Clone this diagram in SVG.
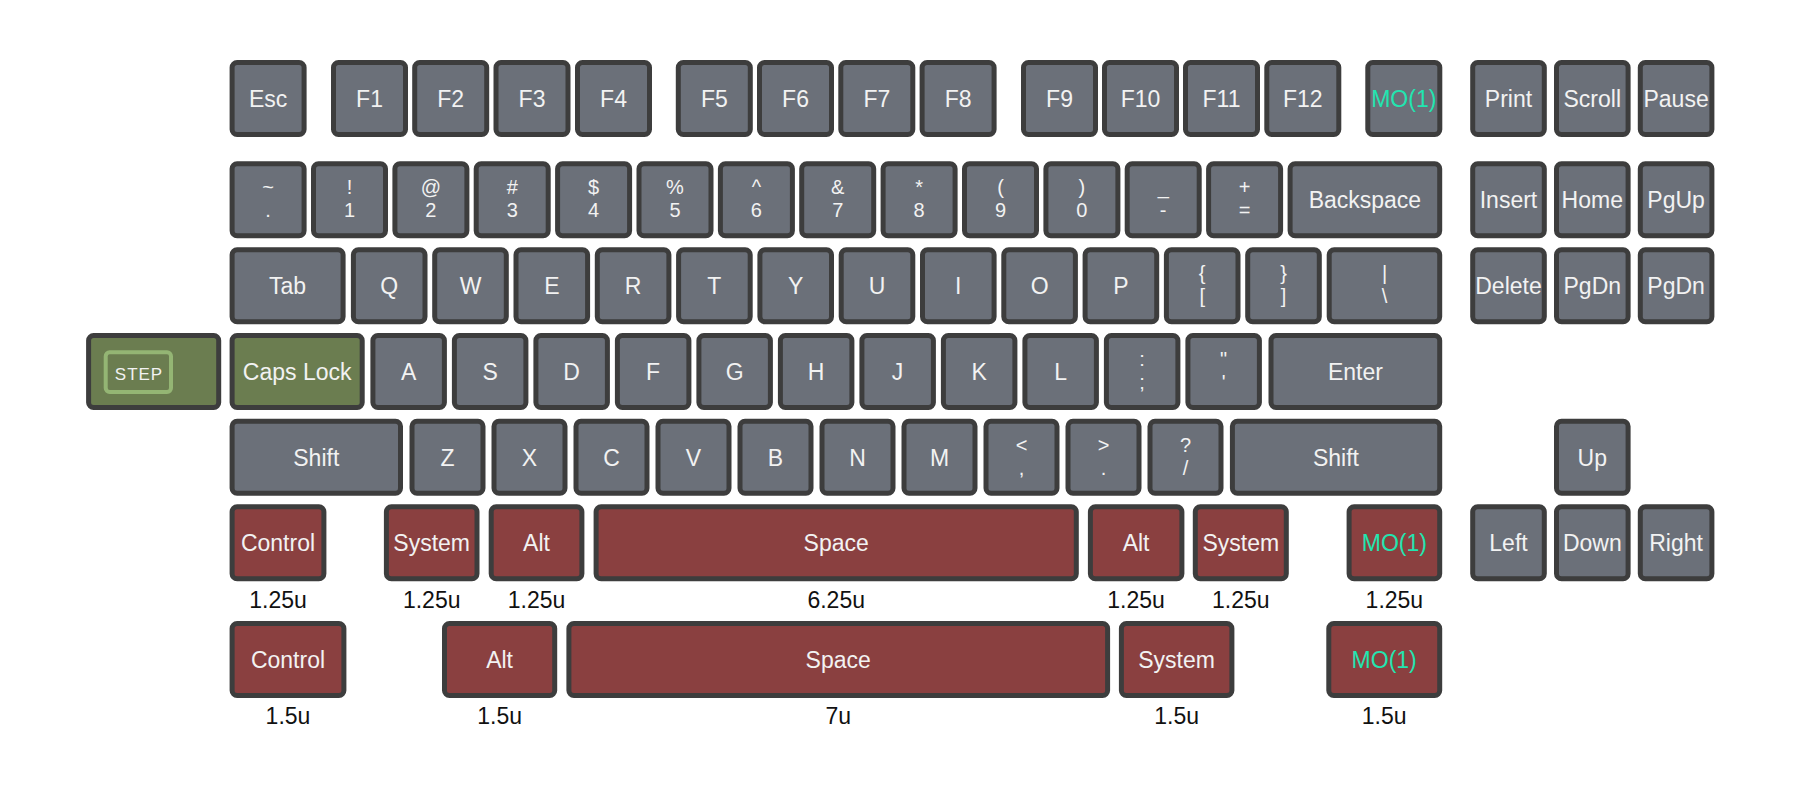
<svg xmlns="http://www.w3.org/2000/svg" width="1800" height="788" viewBox="0 0 1800 788">
<style>
rect.k{stroke:#3d3d3d;stroke-width:5}
.gr{fill:#6b7079}.rd{fill:#8a4040}.gn{fill:#6b7d50}
text{font-family:"Liberation Sans",Arial,sans-serif;font-size:23px;fill:#f2f2f2;text-anchor:middle}
text.d{font-size:20px}
text.mo{fill:#22e5b0}
text.u{fill:#111111}
text.st{font-size:17px;letter-spacing:1px}
</style>
<rect width="1800" height="788" fill="#ffffff"/>
<g id="row-f">
<g id="k-esc"><rect class="k gr" x="232.1" y="62.5" width="72" height="72" rx="5"/><text x="268.1" y="107">Esc</text></g>
<g id="k-f1"><rect class="k gr" x="333.5" y="62.5" width="72" height="72" rx="5"/><text x="369.5" y="107">F1</text></g>
<g id="k-f2"><rect class="k gr" x="414.7" y="62.5" width="72" height="72" rx="5"/><text x="450.7" y="107">F2</text></g>
<g id="k-f3"><rect class="k gr" x="496" y="62.5" width="72" height="72" rx="5"/><text x="532" y="107">F3</text></g>
<g id="k-f4"><rect class="k gr" x="577.5" y="62.5" width="72" height="72" rx="5"/><text x="613.5" y="107">F4</text></g>
<g id="k-f5"><rect class="k gr" x="678.3" y="62.5" width="72" height="72" rx="5"/><text x="714.3" y="107">F5</text></g>
<g id="k-f6"><rect class="k gr" x="759.5" y="62.5" width="72" height="72" rx="5"/><text x="795.5" y="107">F6</text></g>
<g id="k-f7"><rect class="k gr" x="840.8" y="62.5" width="72" height="72" rx="5"/><text x="876.8" y="107">F7</text></g>
<g id="k-f8"><rect class="k gr" x="922.1" y="62.5" width="72" height="72" rx="5"/><text x="958.1" y="107">F8</text></g>
<g id="k-f9"><rect class="k gr" x="1023.5" y="62.5" width="72" height="72" rx="5"/><text x="1059.5" y="107">F9</text></g>
<g id="k-f10"><rect class="k gr" x="1104.5" y="62.5" width="72" height="72" rx="5"/><text x="1140.5" y="107">F10</text></g>
<g id="k-f11"><rect class="k gr" x="1185.5" y="62.5" width="72" height="72" rx="5"/><text x="1221.5" y="107">F11</text></g>
<g id="k-f12"><rect class="k gr" x="1266.8" y="62.5" width="72" height="72" rx="5"/><text x="1302.8" y="107">F12</text></g>
<g id="k-mo-top"><rect class="k gr" x="1367.8" y="62.5" width="72" height="72" rx="5"/><text class="mo" x="1403.8" y="107">MO(1)</text></g>
<g id="k-print"><rect class="k gr" x="1472.7" y="62.5" width="71.6" height="72" rx="5"/><text x="1508.5" y="107">Print</text></g>
<g id="k-scroll"><rect class="k gr" x="1556.5" y="62.5" width="71.6" height="72" rx="5"/><text x="1592.3" y="107">Scroll</text></g>
<g id="k-pause"><rect class="k gr" x="1640.3" y="62.5" width="71.6" height="72" rx="5"/><text x="1676.1" y="107">Pause</text></g>
</g>
<g id="row-num">
<g id="k-grave"><rect class="k gr" x="232.1" y="163.8" width="72" height="72" rx="5"/><text class="d" x="268.1" y="194.3">~<tspan x="268.1" dy="23">.</tspan></text></g>
<g id="k-1"><rect class="k gr" x="313.5" y="163.8" width="72" height="72" rx="5"/><text class="d" x="349.5" y="194.3">!<tspan x="349.5" dy="23">1</tspan></text></g>
<g id="k-2"><rect class="k gr" x="394.9" y="163.8" width="72" height="72" rx="5"/><text class="d" x="430.9" y="194.3">@<tspan x="430.9" dy="23">2</tspan></text></g>
<g id="k-3"><rect class="k gr" x="476.2" y="163.8" width="72" height="72" rx="5"/><text class="d" x="512.2" y="194.3">#<tspan x="512.2" dy="23">3</tspan></text></g>
<g id="k-4"><rect class="k gr" x="557.6" y="163.8" width="72" height="72" rx="5"/><text class="d" x="593.6" y="194.3">$<tspan x="593.6" dy="23">4</tspan></text></g>
<g id="k-5"><rect class="k gr" x="639" y="163.8" width="72" height="72" rx="5"/><text class="d" x="675" y="194.3">%<tspan x="675" dy="23">5</tspan></text></g>
<g id="k-6"><rect class="k gr" x="720.4" y="163.8" width="72" height="72" rx="5"/><text class="d" x="756.4" y="194.3">^<tspan x="756.4" dy="23">6</tspan></text></g>
<g id="k-7"><rect class="k gr" x="801.7" y="163.8" width="72" height="72" rx="5"/><text class="d" x="837.7" y="194.3">&amp;<tspan x="837.7" dy="23">7</tspan></text></g>
<g id="k-8"><rect class="k gr" x="883.1" y="163.8" width="72" height="72" rx="5"/><text class="d" x="919.1" y="194.3">*<tspan x="919.1" dy="23">8</tspan></text></g>
<g id="k-9"><rect class="k gr" x="964.5" y="163.8" width="72" height="72" rx="5"/><text class="d" x="1000.5" y="194.3">(<tspan x="1000.5" dy="23">9</tspan></text></g>
<g id="k-0"><rect class="k gr" x="1045.9" y="163.8" width="72" height="72" rx="5"/><text class="d" x="1081.9" y="194.3">)<tspan x="1081.9" dy="23">0</tspan></text></g>
<g id="k-minus"><rect class="k gr" x="1127.2" y="163.8" width="72" height="72" rx="5"/><text class="d" x="1163.2" y="194.3">_<tspan x="1163.2" dy="23">-</tspan></text></g>
<g id="k-equal"><rect class="k gr" x="1208.6" y="163.8" width="72" height="72" rx="5"/><text class="d" x="1244.6" y="194.3">+<tspan x="1244.6" dy="23">=</tspan></text></g>
<g id="k-bksp"><rect class="k gr" x="1290.1" y="163.8" width="149.6" height="72" rx="5"/><text x="1364.9" y="208.3">Backspace</text></g>
<g id="k-insert"><rect class="k gr" x="1472.7" y="163.8" width="71.6" height="72" rx="5"/><text x="1508.5" y="208.3">Insert</text></g>
<g id="k-home"><rect class="k gr" x="1556.5" y="163.8" width="71.6" height="72" rx="5"/><text x="1592.3" y="208.3">Home</text></g>
<g id="k-pgup"><rect class="k gr" x="1640.3" y="163.8" width="71.6" height="72" rx="5"/><text x="1676.1" y="208.3">PgUp</text></g>
</g>
<g id="row-tab">
<g id="k-tab"><rect class="k gr" x="232.1" y="249.8" width="111" height="72" rx="5"/><text x="287.6" y="294.3">Tab</text></g>
<g id="k-q"><rect class="k gr" x="353.4" y="249.8" width="71.6" height="72" rx="5"/><text x="389.2" y="294.3">Q</text></g>
<g id="k-w"><rect class="k gr" x="434.7" y="249.8" width="71.6" height="72" rx="5"/><text x="470.5" y="294.3">W</text></g>
<g id="k-e"><rect class="k gr" x="516" y="249.8" width="71.6" height="72" rx="5"/><text x="551.8" y="294.3">E</text></g>
<g id="k-r"><rect class="k gr" x="597.3" y="249.8" width="71.6" height="72" rx="5"/><text x="633.1" y="294.3">R</text></g>
<g id="k-t"><rect class="k gr" x="678.6" y="249.8" width="71.6" height="72" rx="5"/><text x="714.4" y="294.3">T</text></g>
<g id="k-y"><rect class="k gr" x="759.9" y="249.8" width="71.6" height="72" rx="5"/><text x="795.7" y="294.3">Y</text></g>
<g id="k-u"><rect class="k gr" x="841.2" y="249.8" width="71.6" height="72" rx="5"/><text x="877" y="294.3">U</text></g>
<g id="k-i"><rect class="k gr" x="922.5" y="249.8" width="71.6" height="72" rx="5"/><text x="958.3" y="294.3">I</text></g>
<g id="k-o"><rect class="k gr" x="1003.8" y="249.8" width="71.6" height="72" rx="5"/><text x="1039.6" y="294.3">O</text></g>
<g id="k-p"><rect class="k gr" x="1085.1" y="249.8" width="71.6" height="72" rx="5"/><text x="1120.9" y="294.3">P</text></g>
<g id="k-lbr"><rect class="k gr" x="1166.4" y="249.8" width="71.6" height="72" rx="5"/><text class="d" x="1202.2" y="280.3">{<tspan x="1202.2" dy="23">[</tspan></text></g>
<g id="k-rbr"><rect class="k gr" x="1247.7" y="249.8" width="71.6" height="72" rx="5"/><text class="d" x="1283.5" y="280.3">}<tspan x="1283.5" dy="23">]</tspan></text></g>
<g id="k-bsl"><rect class="k gr" x="1329.2" y="249.8" width="110.5" height="72" rx="5"/><text class="d" x="1384.5" y="280.3">|<tspan x="1384.5" dy="23">\</tspan></text></g>
<g id="k-delete"><rect class="k gr" x="1472.7" y="249.8" width="71.6" height="72" rx="5"/><text x="1508.5" y="294.3">Delete</text></g>
<g id="k-pgdn1"><rect class="k gr" x="1556.5" y="249.8" width="71.6" height="72" rx="5"/><text x="1592.3" y="294.3">PgDn</text></g>
<g id="k-pgdn2"><rect class="k gr" x="1640.3" y="249.8" width="71.6" height="72" rx="5"/><text x="1676.1" y="294.3">PgDn</text></g>
</g>
<g id="row-caps">
<g id="k-step"><rect class="k gn" x="88.6" y="335.5" width="130.1" height="72" rx="5"/><rect x="105.7" y="352.3" width="65.3" height="39.7" rx="4" fill="none" stroke="#94b574" stroke-width="4"/><text class="st" x="139" y="379.7">STEP</text></g>
<g id="k-caps"><rect class="k gn" x="232.1" y="335.5" width="130.1" height="72" rx="5"/><text x="297.2" y="380">Caps Lock</text></g>
<g id="k-a"><rect class="k gr" x="372.9" y="335.5" width="71.5" height="72" rx="5"/><text x="408.6" y="380">A</text></g>
<g id="k-s"><rect class="k gr" x="454.4" y="335.5" width="71.5" height="72" rx="5"/><text x="490.1" y="380">S</text></g>
<g id="k-d"><rect class="k gr" x="535.9" y="335.5" width="71.5" height="72" rx="5"/><text x="571.6" y="380">D</text></g>
<g id="k-f"><rect class="k gr" x="617.4" y="335.5" width="71.5" height="72" rx="5"/><text x="653.1" y="380">F</text></g>
<g id="k-g"><rect class="k gr" x="698.9" y="335.5" width="71.5" height="72" rx="5"/><text x="734.6" y="380">G</text></g>
<g id="k-h"><rect class="k gr" x="780.4" y="335.5" width="71.5" height="72" rx="5"/><text x="816.1" y="380">H</text></g>
<g id="k-j"><rect class="k gr" x="861.9" y="335.5" width="71.5" height="72" rx="5"/><text x="897.6" y="380">J</text></g>
<g id="k-k"><rect class="k gr" x="943.4" y="335.5" width="71.5" height="72" rx="5"/><text x="979.1" y="380">K</text></g>
<g id="k-l"><rect class="k gr" x="1024.9" y="335.5" width="71.5" height="72" rx="5"/><text x="1060.6" y="380">L</text></g>
<g id="k-semi"><rect class="k gr" x="1106.4" y="335.5" width="71.5" height="72" rx="5"/><text class="d" x="1142.1" y="366">:<tspan x="1142.1" dy="23">;</tspan></text></g>
<g id="k-quote"><rect class="k gr" x="1187.9" y="335.5" width="71.5" height="72" rx="5"/><text class="d" x="1223.6" y="366">"<tspan x="1223.6" dy="23">'</tspan></text></g>
<g id="k-enter"><rect class="k gr" x="1271" y="335.5" width="168.7" height="72" rx="5"/><text x="1355.4" y="380">Enter</text></g>
</g>
<g id="row-shift">
<g id="k-lshift"><rect class="k gr" x="232.1" y="421.2" width="168.4" height="72" rx="5"/><text x="316.3" y="465.7">Shift</text></g>
<g id="k-z"><rect class="k gr" x="412" y="421.2" width="71" height="72" rx="5"/><text x="447.5" y="465.7">Z</text></g>
<g id="k-x"><rect class="k gr" x="494" y="421.2" width="71" height="72" rx="5"/><text x="529.5" y="465.7">X</text></g>
<g id="k-c"><rect class="k gr" x="576" y="421.2" width="71" height="72" rx="5"/><text x="611.5" y="465.7">C</text></g>
<g id="k-v"><rect class="k gr" x="658" y="421.2" width="71" height="72" rx="5"/><text x="693.5" y="465.7">V</text></g>
<g id="k-b"><rect class="k gr" x="740" y="421.2" width="71" height="72" rx="5"/><text x="775.5" y="465.7">B</text></g>
<g id="k-n"><rect class="k gr" x="822" y="421.2" width="71" height="72" rx="5"/><text x="857.5" y="465.7">N</text></g>
<g id="k-m"><rect class="k gr" x="904" y="421.2" width="71" height="72" rx="5"/><text x="939.5" y="465.7">M</text></g>
<g id="k-comma"><rect class="k gr" x="986" y="421.2" width="71" height="72" rx="5"/><text class="d" x="1021.5" y="451.7">&lt;<tspan x="1021.5" dy="23">,</tspan></text></g>
<g id="k-period"><rect class="k gr" x="1068" y="421.2" width="71" height="72" rx="5"/><text class="d" x="1103.5" y="451.7">&gt;<tspan x="1103.5" dy="23">.</tspan></text></g>
<g id="k-slash"><rect class="k gr" x="1150" y="421.2" width="71" height="72" rx="5"/><text class="d" x="1185.5" y="451.7">?<tspan x="1185.5" dy="23">/</tspan></text></g>
<g id="k-rshift"><rect class="k gr" x="1232.4" y="421.2" width="207.3" height="72" rx="5"/><text x="1336" y="465.7">Shift</text></g>
<g id="k-up"><rect class="k gr" x="1556.5" y="421.2" width="71.6" height="72" rx="5"/><text x="1592.3" y="465.7">Up</text></g>
</g>
<g id="row-bottom-125">
<g id="k-ctrl125"><rect class="k rd" x="232.1" y="506.8" width="91.8" height="72" rx="5"/><text x="278" y="551.3">Control</text></g>
<g id="k-sys125a"><rect class="k rd" x="386.4" y="506.8" width="90.6" height="72" rx="5"/><text x="431.7" y="551.3">System</text></g>
<g id="k-alt125a"><rect class="k rd" x="491.2" y="506.8" width="90.7" height="72" rx="5"/><text x="536.5" y="551.3">Alt</text></g>
<g id="k-space625"><rect class="k rd" x="596.1" y="506.8" width="480.2" height="72" rx="5"/><text x="836.2" y="551.3">Space</text></g>
<g id="k-alt125b"><rect class="k rd" x="1090.4" y="506.8" width="91.5" height="72" rx="5"/><text x="1136.1" y="551.3">Alt</text></g>
<g id="k-sys125b"><rect class="k rd" x="1195.3" y="506.8" width="91" height="72" rx="5"/><text x="1240.8" y="551.3">System</text></g>
<g id="k-mo125"><rect class="k rd" x="1349.1" y="506.8" width="90.6" height="72" rx="5"/><text class="mo" x="1394.4" y="551.3">MO(1)</text></g>
<g id="k-left"><rect class="k gr" x="1472.7" y="506.8" width="71.6" height="72" rx="5"/><text x="1508.5" y="551.3">Left</text></g>
<g id="k-down"><rect class="k gr" x="1556.5" y="506.8" width="71.6" height="72" rx="5"/><text x="1592.3" y="551.3">Down</text></g>
<g id="k-right"><rect class="k gr" x="1640.3" y="506.8" width="71.6" height="72" rx="5"/><text x="1676.1" y="551.3">Right</text></g>
</g>
<g id="labels-125">
<text class="u" x="278" y="607.7">1.25u</text>
<text class="u" x="431.7" y="607.7">1.25u</text>
<text class="u" x="536.5" y="607.7">1.25u</text>
<text class="u" x="836.2" y="607.7">6.25u</text>
<text class="u" x="1136.1" y="607.7">1.25u</text>
<text class="u" x="1240.8" y="607.7">1.25u</text>
<text class="u" x="1394.4" y="607.7">1.25u</text>
</g>
<g id="row-bottom-15">
<g id="k-ctrl15"><rect class="k rd" x="232.1" y="623.5" width="111.8" height="72" rx="5"/><text x="288" y="668">Control</text></g>
<g id="k-alt15"><rect class="k rd" x="444.5" y="623.5" width="110.2" height="72" rx="5"/><text x="499.6" y="668">Alt</text></g>
<g id="k-space7"><rect class="k rd" x="568.9" y="623.5" width="538.7" height="72" rx="5"/><text x="838.2" y="668">Space</text></g>
<g id="k-sys15"><rect class="k rd" x="1121.4" y="623.5" width="110.5" height="72" rx="5"/><text x="1176.6" y="668">System</text></g>
<g id="k-mo15"><rect class="k rd" x="1328.8" y="623.5" width="110.9" height="72" rx="5"/><text class="mo" x="1384.2" y="668">MO(1)</text></g>
</g>
<g id="labels-15">
<text class="u" x="288" y="724.3">1.5u</text>
<text class="u" x="499.6" y="724.3">1.5u</text>
<text class="u" x="838.2" y="724.3">7u</text>
<text class="u" x="1176.6" y="724.3">1.5u</text>
<text class="u" x="1384.2" y="724.3">1.5u</text>
</g>
<g id="connectors"/>
</svg>
